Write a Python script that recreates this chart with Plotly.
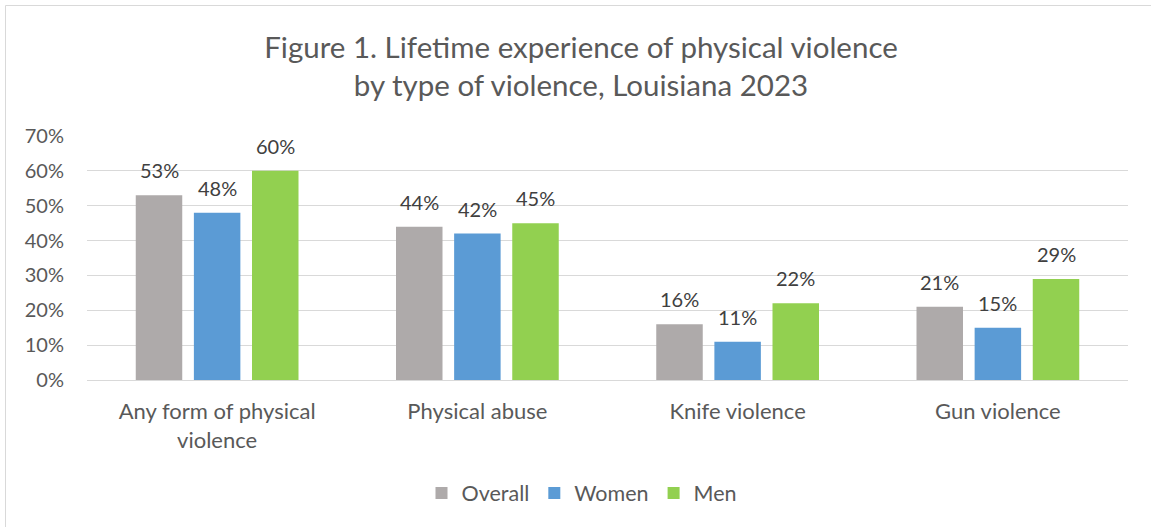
import plotly.graph_objects as go

categories = ["Any form of physical<br>violence", "Physical abuse", "Knife violence", "Gun violence"]
series_names = ["Overall", "Women", "Men"]
overall = [0.53, 0.44, 0.16, 0.21]
women = [0.48, 0.42, 0.11, 0.15]
men = [0.60, 0.45, 0.22, 0.29]
colors = ["#AEAAAA", "#5B9BD5", "#92D050"]
y_ticks = [0, 0.1, 0.2, 0.3, 0.4, 0.5, 0.6, 0.7]

FONT = "Lato"
TXT = "#595959"

W, H = 1151, 527
L, R, T, B = 87, 23, 136, 147
plot_w = W - L - R
plot_h = H - T - B

fig = go.Figure()
values = [overall, women, men]
for name, vals, col in zip(series_names, values, colors):
    fig.add_trace(go.Bar(
        name=name, x=categories, y=vals,
        marker=dict(color=col, line=dict(width=0)),
        hoverinfo="skip",
    ))

# value labels above each bar
slot = plot_w / len(categories) * (1 - 0.33) / 3
for i, vals in enumerate(values):
    offset = (i - 1) * slot
    for c, v in zip(categories, vals):
        fig.add_annotation(
            x=c, y=v, xref="x", yref="y", xshift=offset, yshift=11,
            text=f"{round(v*100)}%", showarrow=False, yanchor="bottom",
            font=dict(family=FONT, size=20, color="#404040"),
        )

# chart border
fig.add_shape(
    type="rect", xref="paper", yref="paper",
    x0=(5.5 - L) / plot_w, x1=(W + 20 - L) / plot_w,
    y0=-(H + 20 - T - plot_h) / plot_h, y1=(H - B - 5.5) / plot_h,
    line=dict(color="#D9D9D9", width=1), fillcolor="rgba(0,0,0,0)", layer="below",
)

fig.update_layout(
    width=W, height=H,
    margin=dict(l=L, r=R, t=T, b=B),
    paper_bgcolor="white", plot_bgcolor="white",
    barmode="group", bargap=0.33, bargroupgap=0.2,
    title=dict(
        text="Figure 1. Lifetime experience of physical violence<br>by type of violence, Louisiana 2023",
        x=581 / W, xanchor="center", y=1 - 57.5 / H, yanchor="middle", yref="container",
        font=dict(family=FONT, size=29.5, color=TXT),
    ),
    font=dict(family=FONT, color=TXT),
    showlegend=True,
    legend=dict(
        orientation="h", x=(582 - L) / plot_w, xanchor="center",
        y=-(493 - (H - B)) / plot_h, yanchor="middle",
        font=dict(family=FONT, size=21.5, color=TXT),
        itemclick=False, traceorder="normal",
    ),
    xaxis=dict(
        showgrid=False, showline=True, linecolor="#D9D9D9", linewidth=1,
        tickfont=dict(family=FONT, size=22, color=TXT), ticks="",
        ticklabelstandoff=12,
    ),
    yaxis=dict(
        range=[0, 0.7], tickvals=y_ticks, tickformat=".0%",
        showgrid=True, gridcolor="#D9D9D9", gridwidth=1, zeroline=False,
        showline=False, ticks="",
        tickfont=dict(family=FONT, size=20, color=TXT),
        ticklabelstandoff=22,
    ),
)

fig.write_html("out.html")
